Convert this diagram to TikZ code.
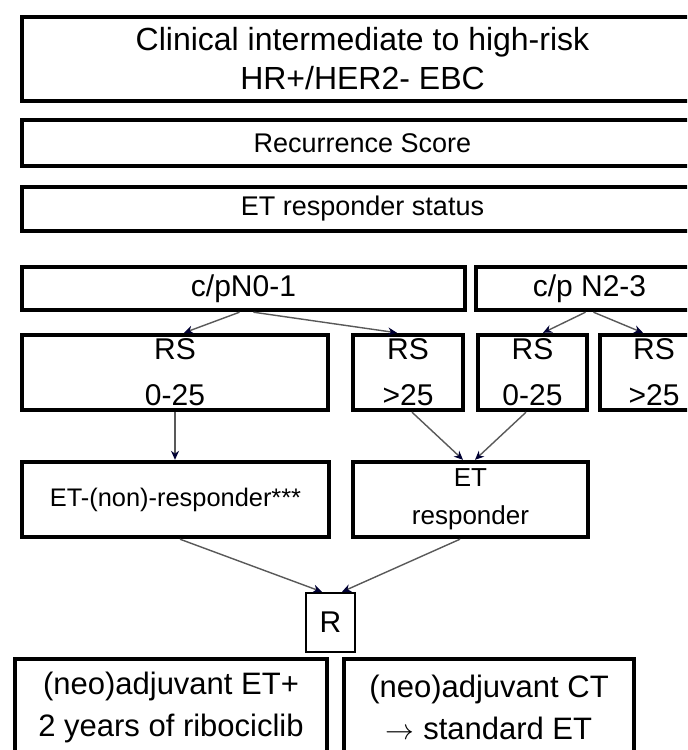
\documentclass[tikz,border=0pt]{standalone}
\usepackage{fontspec}
\setmainfont{Liberation Sans}
\usetikzlibrary{arrows.meta}

\tikzset{
  box/.style={draw=black, line width=2.2pt, fill=white, inner sep=0pt, align=center},
  conn/.style={draw=black!65, line width=0.7pt, -{Stealth[length=4.5pt,width=4pt,black!80!blue]}}
}

\begin{document}
\begin{tikzpicture}[x=0.5pt, y=-0.5pt]
    \useasboundingbox (0,0) rectangle (687,750);
    \fill[white] (0,0) rectangle (687,750);
    \clip (0,0) rectangle (687,750);

    % header boxes
    \node[box, minimum width=340.5pt, minimum height=42pt, font=\fontsize{16}{19.5}\selectfont]
        (pop) at (362.5,59) {Clinical intermediate to high-risk\\HR+/HER2- EBC};
    \node[box, minimum width=340.5pt, minimum height=23pt, font=\fontsize{13.5}{16}\selectfont]
        (rscore) at (362.5,143) {Recurrence Score};
    \node[box, minimum width=340.5pt, minimum height=22pt, font=\fontsize{13.5}{16}\selectfont]
        (etstatus) at (362.5,209) {ET responder status};

    % nodal status
    \node[box, minimum width=221.5pt, minimum height=21.5pt, font=\fontsize{15}{18}\selectfont]
        (nlow) at (243.5,288.5) {c/pN0-1};
    \node[box, minimum width=113.5pt, minimum height=21.5pt, font=\fontsize{15}{18}\selectfont]
        (nhigh) at (589.5,288.5) {c/p N2-3};

    % recurrence score groups
    \node[box, minimum width=153pt, minimum height=37.5pt, font=\fontsize{15}{23}\selectfont]
        (rsa) at (175,372.5) {RS\\0-25};
    \node[box, minimum width=55pt, minimum height=37.5pt, font=\fontsize{15}{23}\selectfont]
        (rsb) at (408,372.5) {RS\\>25};
    \node[box, minimum width=54.5pt, minimum height=37.5pt, font=\fontsize{15}{23}\selectfont]
        (rsc) at (532.5,372.5) {RS\\0-25};
    \node[box, minimum width=54pt, minimum height=37.5pt, font=\fontsize{15}{23}\selectfont]
        (rsd) at (654,372.5) {RS\\>25};

    % responder status
    \node[box, minimum width=153.5pt, minimum height=37.5pt, font=\fontsize{12.7}{19}\selectfont]
        (etnon) at (175.5,499.5) {ET-(non)-responder***};
    \node[box, minimum width=117.5pt, minimum height=37.5pt, font=\fontsize{13}{19}\selectfont]
        (etresp) at (470.5,499.5) {ET\\responder};

    % randomisation and arms
    \node[box, line width=1.2pt, minimum width=24.5pt, minimum height=29.5pt, font=\fontsize{15}{18}\selectfont]
        (rand) at (330.5,622.5) {R};
    \node[box, minimum width=156pt, minimum height=48pt, font=\fontsize{15.5}{21}\selectfont]
        (armribo) at (171,707) {(neo)adjuvant ET+\\2 years of ribociclib};
    \node[box, minimum width=145pt, minimum height=48pt, font=\fontsize{15.5}{21}\selectfont]
        (armct) at (489,707) {(neo)adjuvant CT\\$\rightarrow$ standard ET};

    % connectors
    \draw[conn] ([xshift=-2pt]nlow.south) -- ([xshift=4.5pt]rsa.north);
    \draw[conn] ([xshift=5pt]nlow.south) -- ([xshift=-5.5pt]rsb.north);
    \draw[conn] ([xshift=-2pt]nhigh.south) -- ([xshift=5.25pt]rsc.north);
    \draw[conn] ([xshift=2pt]nhigh.south) -- ([xshift=-5.5pt]rsd.north);
    \draw[conn] (rsa.south) -- (rsa.south |- etnon.north);
    \draw[conn] ([xshift=2pt]rsb.south) -- ([xshift=-3.75pt]etresp.north);
    \draw[conn] ([xshift=-3.25pt]rsc.south) -- ([xshift=2.25pt]etresp.north);
    \draw[conn] ([xshift=2.25pt]etnon.south) -- ([xshift=-4.25pt]rand.north);
    \draw[conn] ([xshift=-5.25pt]etresp.south) -- ([xshift=5.75pt]rand.north);
\end{tikzpicture}
\end{document}
